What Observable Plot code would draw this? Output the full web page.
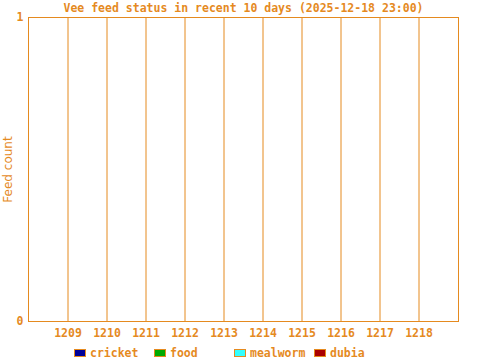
<!DOCTYPE html>
<html><head><meta charset="utf-8">
<script src="https://cdn.jsdelivr.net/npm/d3@7"></script>
<script src="https://cdn.jsdelivr.net/npm/@observablehq/plot@0.6"></script>
<style>
body{margin:0;background:#fff;}
#wrap{position:relative;width:480px;height:360px;}
#legend{position:absolute;left:74px;top:346px;display:flex;font:bold 11.5px "DejaVu Sans Mono",monospace;color:#e58a1f;}
.item{width:80px;display:flex;align-items:center;white-space:nowrap;}
.sw{width:10px;height:6px;border:1px solid #e58a1f;margin-right:4px;}
</style></head>
<body><div id="wrap"><div id="legend"></div></div>
<script>
const title = "Vee feed status in recent 10 days (2025-12-18 23:00)";
const days = ["1209","1210","1211","1212","1213","1214","1215","1216","1217","1218"];
const series = ["cricket","food","mealworm","dubia"];
const colors = ["#000099","#00aa00","#33ffff","#aa0000"];
const cricket  = [0,0,0,0,0,0,0,0,0,0];
const food     = [0,0,0,0,0,0,0,0,0,0];
const mealworm = [0,0,0,0,0,0,0,0,0,0];
const dubia    = [0,0,0,0,0,0,0,0,0,0];
const yTicks = [0,1];
const orange = "#e58a1f";

const vals = {cricket, food, mealworm, dubia};
const data = series.flatMap(s => days.map((d,i) => ({day:d, series:s, value:vals[s][i]})));

const chart = Plot.plot({
  width:480, height:360,
  marginTop:17, marginBottom:39, marginLeft:28, marginRight:22,
  style:{background:"#fff", color:orange, fontFamily:"DejaVu Sans Mono, monospace", fontSize:"11.5px", fontWeight:"bold", overflow:"visible"},
  x:{type:"band", domain:days, paddingInner:0.4, paddingOuter:0.7, label:null},
  y:{domain:[0,1], label:null},
  color:{domain:series, range:colors},
  marks:[
    Plot.gridX(days, {stroke:orange, strokeWidth:1, strokeOpacity:1}),
    Plot.barY(data, Plot.stackY({x:"day", y:"value", fill:"series"})),
    Plot.frame({stroke:orange, strokeOpacity:1}),
    Plot.axisX({tickSize:0, tickPadding:7, fontWeight:"bold", fill:orange}),
    Plot.axisY({ticks:yTicks, tickSize:0, tickPadding:5, tickFormat:d3.format("d"), fontWeight:"bold", fill:orange}),
    Plot.text([title], {frameAnchor:"top", dy:-9, lineAnchor:"middle", fill:orange, fontWeight:"bold", fontSize:11.5}),
    Plot.text(["Feed count"], {frameAnchor:"left", dx:-20, rotate:-90, textAnchor:"middle", fill:orange, fontFamily:"DejaVu Sans, sans-serif", fontWeight:"normal", fontSize:12})
  ]
});
const wrap = document.getElementById("wrap");
wrap.insertBefore(chart, wrap.firstChild);

const legend = document.getElementById("legend");
series.forEach((s,i) => {
  const it = document.createElement("div"); it.className="item";
  const sw = document.createElement("span"); sw.className="sw"; sw.style.background=colors[i];
  it.appendChild(sw); it.appendChild(document.createTextNode(s));
  legend.appendChild(it);
});
</script></body></html>
